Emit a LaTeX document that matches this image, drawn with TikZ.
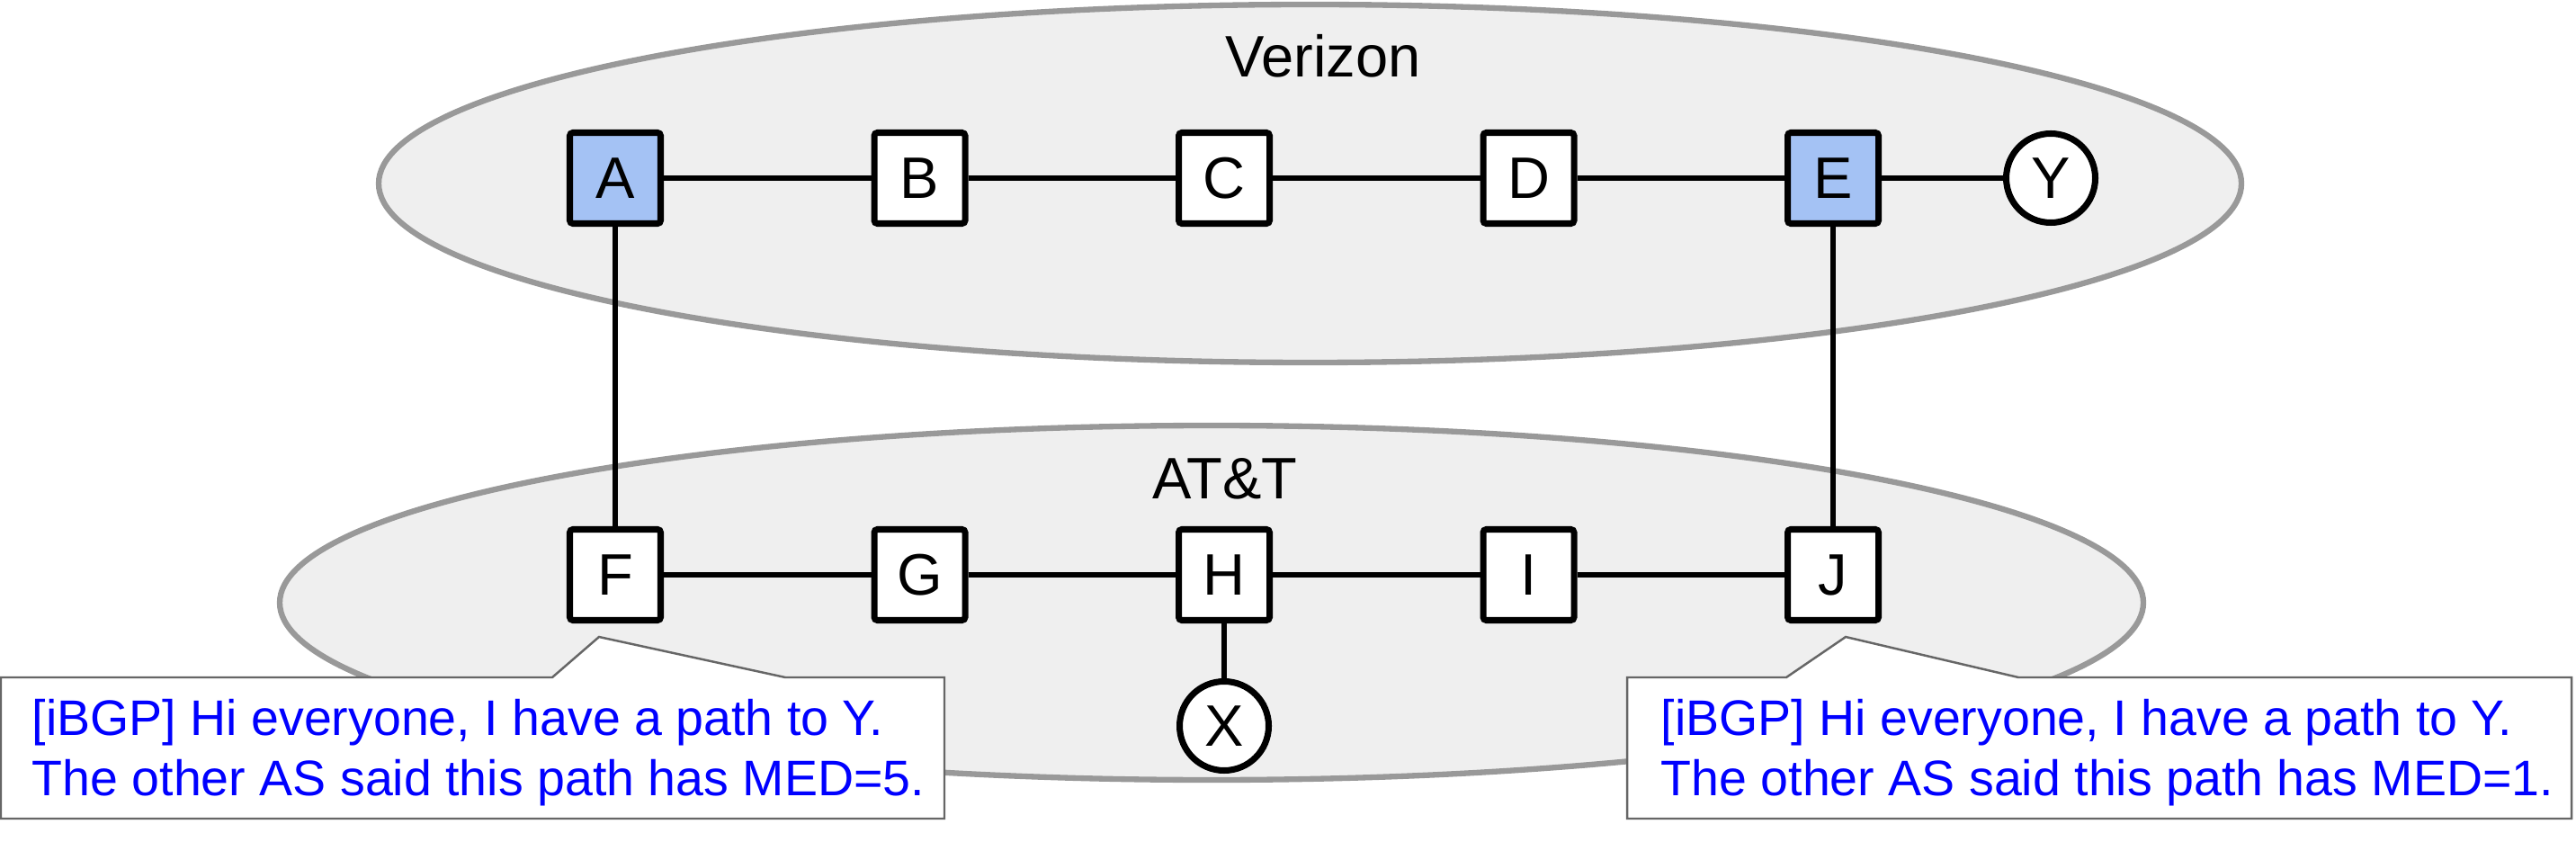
\documentclass[tikz,border=0pt]{standalone}
\usepackage{fontspec}
\setmainfont{Liberation Sans}
\definecolor{asfill}{HTML}{EFEFEF}
\definecolor{asline}{HTML}{999999}
\definecolor{border}{HTML}{A4C2F4}
\definecolor{msgline}{HTML}{666666}
\definecolor{msgtext}{HTML}{0000FF}
\begin{document}
\begin{tikzpicture}[
    router/.style={draw=black, line width=2pt, fill=white, rounded corners=1pt, minimum size=1.01cm, inner sep=0pt, font=\fontsize{18.5}{22}\selectfont},
    borderrouter/.style={router, fill=border},
    host/.style={draw=black, line width=2pt, fill=white, circle, minimum size=0.99cm, inner sep=0pt, font=\fontsize{18.5}{22}\selectfont},
    link/.style={line width=1.7pt},
    asregion/.style={draw=asline, fill=asfill, line width=1.8pt},
    msgbox/.style={draw=msgline, fill=white, line width=0.7pt},
    msg/.style={text=msgtext, align=left, inner sep=0pt, anchor=base west, font=\fontsize{15.8}{18.8}\selectfont}
  ]
                        \useasboundingbox (0,0) rectangle (28.64,9.35);
                        % autonomous systems
                        \draw[asregion] (14.565,7.31) ellipse (10.355 and 1.99);
                        \draw[asregion] (13.47,2.65) ellipse (10.36 and 1.97);
                        \node[anchor=base, font=\fontsize{18.5}{22}\selectfont] (verizon) at (14.71,8.49) {Verizon};
                        \node[anchor=base, font=\fontsize{18.5}{22}\selectfont] (att) at (13.62,3.81) {AT\&T};
                        % Verizon routers
                        \node[borderrouter] (A) at (6.84,7.37) {A};
                        \node[router] (B) at (10.225,7.37) {B};
                        \node[router] (C) at (13.61,7.37) {C};
                        \node[router] (D) at (16.995,7.37) {D};
                        \node[borderrouter] (E) at (20.38,7.37) {E};
                        \node[host] (Y) at (22.80,7.37) {Y};
                        % AT&T routers
                        \node[router] (F) at (6.84,2.96) {F};
                        \node[router] (G) at (10.225,2.96) {G};
                        \node[router] (H) at (13.61,2.96) {H};
                        \node[router] (I) at (16.995,2.96) {I};
                        \node[router] (J) at (20.38,2.96) {J};
                        \node[host] (X) at (13.61,1.28) {X};
                        % links
                        \draw[link] (A) -- (B);
                        \draw[link] (B) -- (C);
                        \draw[link] (C) -- (D);
                        \draw[link] (D) -- (E);
                        \draw[link] (E) -- (Y);
                        \draw[link] (F) -- (G);
                        \draw[link] (G) -- (H);
                        \draw[link] (H) -- (I);
                        \draw[link] (I) -- (J);
                        \draw[link] (H) -- (X);
                        \draw[link] (A) -- (F);
                        \draw[link] (E) -- (J);
                        % callouts
                        \coordinate (tipF) at (6.66,2.27);
                        \coordinate (tipJ) at (20.52,2.27);
                        \draw[msgbox] (0.01,1.82) -- (6.14,1.82) -- (tipF) -- (8.73,1.82) -- (10.50,1.82) -- (10.50,0.25) -- (0.01,0.25) -- cycle;
                        \draw[msgbox] (18.09,1.82) -- (19.86,1.82) -- (tipJ) -- (22.44,1.82) -- (28.59,1.82) -- (28.59,0.25) -- (18.09,0.25) -- cycle;
                        \node[msg] (msgF) at (0.35,0.51) {[iBGP] Hi everyone, I have a path to Y.\\The other AS said this path has MED=5.};
                        \node[msg] (msgJ) at (18.46,0.51) {[iBGP] Hi everyone, I have a path to Y.\\The other AS said this path has MED=1.};
                    \end{tikzpicture}
\end{document}
